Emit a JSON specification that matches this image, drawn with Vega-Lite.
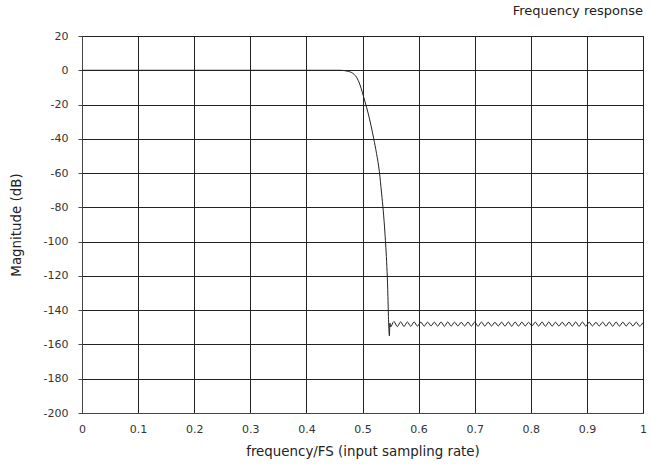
{
  "$schema": "https://vega.github.io/schema/vega-lite/v6.json",
  "autosize": "none",
  "width": 561,
  "height": 377,
  "padding": {"left": 82, "top": 36, "right": 8, "bottom": 52},
  "config": {
    "locale": {"number": {"decimal": ".", "thousands": ",", "grouping": [3], "currency": ["$", ""], "minus": "-"}},
    "view": {"stroke": "#222", "strokeWidth": 1},
    "font": "DejaVu Sans",
    "axis": {
      "gridColor": "#222", "gridOpacity": 1, "gridWidth": 1,
      "domainColor": "#444", "domainWidth": 1,
      "tickColor": "#444",
      "labelFont": "DejaVu Sans", "labelFontSize": 11, "labelColor": "#333",
      "titleFont": "DejaVu Sans", "titleFontSize": 13.4, "titleFontWeight": "normal", "titleColor": "#222"
    }
  },
  "title": {
    "text": "Frequency response",
    "anchor": "end",
    "frame": "group",
    "fontSize": 13,
    "fontWeight": "normal",
    "font": "DejaVu Sans",
    "color": "#222",
    "offset": 12
  },
  "data": {
    "values": [
      {"f": 0.0, "db": 0},
      {"f": 0.46, "db": 0},
      {"f": 0.465, "db": -0.1},
      {"f": 0.47, "db": -0.3},
      {"f": 0.475, "db": -0.7},
      {"f": 0.48, "db": -1.2},
      {"f": 0.485, "db": -2.4},
      {"f": 0.49, "db": -4.4},
      {"f": 0.495, "db": -8},
      {"f": 0.5, "db": -13.2},
      {"f": 0.505, "db": -19},
      {"f": 0.51, "db": -25},
      {"f": 0.515, "db": -32},
      {"f": 0.52, "db": -40},
      {"f": 0.525, "db": -48.5},
      {"f": 0.53, "db": -59},
      {"f": 0.534, "db": -71.7},
      {"f": 0.537, "db": -82},
      {"f": 0.54, "db": -95},
      {"f": 0.5434, "db": -114.5},
      {"f": 0.545, "db": -128},
      {"f": 0.5464, "db": -145.5},
      {"f": 0.548, "db": -155},
      {"f": 0.5488, "db": -147.5},
      {"f": 0.55, "db": -149.8},
      {"f": 0.556, "db": -146.6},
      {"f": 0.562, "db": -149.6},
      {"f": 0.568, "db": -146.8},
      {"f": 0.574, "db": -149.5},
      {"f": 0.58, "db": -146.9},
      {"f": 0.586, "db": -149.4},
      {"f": 0.592, "db": -146.9},
      {"f": 0.598, "db": -149.3},
      {"f": 0.604, "db": -147.0},
      {"f": 0.61, "db": -149.3},
      {"f": 0.616, "db": -147.0},
      {"f": 0.622, "db": -149.2},
      {"f": 0.628, "db": -147.0},
      {"f": 0.634, "db": -149.3},
      {"f": 0.64, "db": -146.9},
      {"f": 0.646, "db": -149.4},
      {"f": 0.652, "db": -146.9},
      {"f": 0.658, "db": -149.3},
      {"f": 0.664, "db": -147.0},
      {"f": 0.67, "db": -149.2},
      {"f": 0.676, "db": -147.1},
      {"f": 0.682, "db": -149.2},
      {"f": 0.688, "db": -147.0},
      {"f": 0.694, "db": -149.3},
      {"f": 0.7, "db": -146.9},
      {"f": 0.706, "db": -149.4},
      {"f": 0.712, "db": -146.9},
      {"f": 0.718, "db": -149.3},
      {"f": 0.724, "db": -147.0},
      {"f": 0.73, "db": -149.2},
      {"f": 0.736, "db": -147.1},
      {"f": 0.742, "db": -149.2},
      {"f": 0.748, "db": -147.0},
      {"f": 0.754, "db": -149.3},
      {"f": 0.76, "db": -146.9},
      {"f": 0.766, "db": -149.4},
      {"f": 0.772, "db": -146.9},
      {"f": 0.778, "db": -149.3},
      {"f": 0.784, "db": -147.0},
      {"f": 0.79, "db": -149.2},
      {"f": 0.796, "db": -147.1},
      {"f": 0.802, "db": -149.2},
      {"f": 0.808, "db": -147.0},
      {"f": 0.814, "db": -149.3},
      {"f": 0.82, "db": -146.9},
      {"f": 0.826, "db": -149.4},
      {"f": 0.832, "db": -146.9},
      {"f": 0.838, "db": -149.3},
      {"f": 0.844, "db": -147.0},
      {"f": 0.85, "db": -149.2},
      {"f": 0.856, "db": -147.1},
      {"f": 0.862, "db": -149.2},
      {"f": 0.868, "db": -147.0},
      {"f": 0.874, "db": -149.3},
      {"f": 0.88, "db": -146.9},
      {"f": 0.886, "db": -149.4},
      {"f": 0.892, "db": -146.9},
      {"f": 0.898, "db": -149.3},
      {"f": 0.904, "db": -147.0},
      {"f": 0.91, "db": -149.2},
      {"f": 0.916, "db": -147.1},
      {"f": 0.922, "db": -149.2},
      {"f": 0.928, "db": -147.0},
      {"f": 0.934, "db": -149.3},
      {"f": 0.94, "db": -146.9},
      {"f": 0.946, "db": -149.4},
      {"f": 0.952, "db": -146.9},
      {"f": 0.958, "db": -149.3},
      {"f": 0.964, "db": -147.0},
      {"f": 0.97, "db": -149.2},
      {"f": 0.976, "db": -147.1},
      {"f": 0.982, "db": -149.2},
      {"f": 0.988, "db": -147.0},
      {"f": 0.994, "db": -149.3},
      {"f": 1.0, "db": -147.2}
    ]
  },
  "mark": {"type": "line", "color": "#222", "strokeWidth": 1, "interpolate": "monotone"},
  "encoding": {
    "x": {
      "field": "f", "type": "quantitative",
      "scale": {"domain": [0, 1], "nice": false, "zero": false},
      "axis": {
        "values": [0, 0.1, 0.2, 0.3, 0.4, 0.5, 0.6, 0.7, 0.8, 0.9, 1],
        "format": "~g",
        "title": "frequency/FS (input sampling rate)",
        "ticks": false, "labelPadding": 10, "titlePadding": 10,
        "labelFlush": false
      }
    },
    "y": {
      "field": "db", "type": "quantitative",
      "scale": {"domain": [-200, 20], "nice": false, "zero": false},
      "axis": {
        "values": [-200, -180, -160, -140, -120, -100, -80, -60, -40, -20, 0, 20],
        "title": "Magnitude (dB)",
        "tickSize": 4, "labelPadding": 10, "titlePadding": 20,
        "labelFlush": false
      }
    }
  }
}
